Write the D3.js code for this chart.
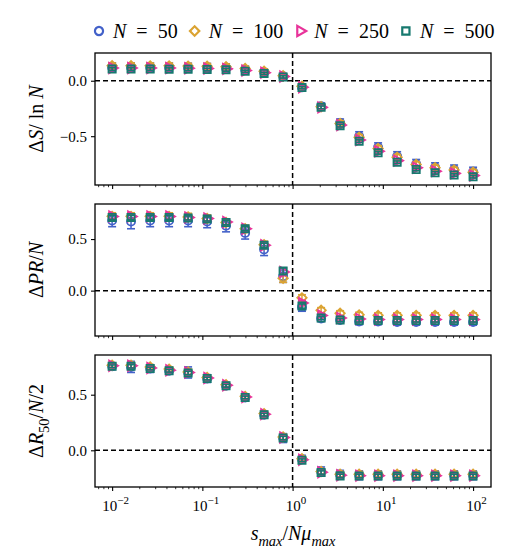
<!DOCTYPE html>
<html>
<head>
<meta charset="utf-8">
<script src="https://cdn.jsdelivr.net/npm/d3@7"></script>
<style>
  body { margin: 0; background: #fff; }
  svg text { font-family: "Liberation Serif", "DejaVu Serif", serif; fill: #000; }
</style>
</head>
<body>
<div id="chart"></div>
<script>
// x values (s_max / N mu_max), log spaced points
var sRatio = [0.01, 0.0162, 0.0264, 0.0428, 0.0695, 0.113, 0.183, 0.298, 0.483, 0.785,
              1.27, 2.07, 3.36, 5.46, 8.86, 14.4, 23.4, 37.9, 61.6, 100];

var sizesN = ["50", "100", "250", "500"];

// Delta S / ln N
var dS_50  = [0.12, 0.12, 0.12, 0.12, 0.118, 0.116, 0.112, 0.097, 0.076, 0.04, -0.06, -0.23, -0.38, -0.5, -0.6, -0.68, -0.75, -0.78, -0.8, -0.82];
var dS_100 = [0.135, 0.135, 0.134, 0.134, 0.132, 0.13, 0.126, 0.11, 0.085, 0.045, -0.05, -0.235, -0.385, -0.51, -0.61, -0.69, -0.755, -0.785, -0.805, -0.825];
var dS_250 = [0.115, 0.115, 0.115, 0.114, 0.112, 0.11, 0.107, 0.093, 0.073, 0.038, -0.058, -0.24, -0.4, -0.535, -0.635, -0.72, -0.785, -0.815, -0.835, -0.855];
var dS_500 = [0.105, 0.105, 0.105, 0.104, 0.103, 0.101, 0.098, 0.085, 0.066, 0.034, -0.062, -0.24, -0.405, -0.545, -0.65, -0.735, -0.8, -0.83, -0.85, -0.865];
var dS_err50  = [0.04, 0.04, 0.04, 0.04, 0.04, 0.04, 0.04, 0.035, 0.03, 0.025, 0.02, 0.03, 0.035, 0.04, 0.04, 0.04, 0.04, 0.04, 0.04, 0.04];
var dS_err100 = [0.025, 0.025, 0.025, 0.025, 0.025, 0.025, 0.025, 0.02, 0.02, 0.015, 0.015, 0.02, 0.025, 0.025, 0.025, 0.025, 0.025, 0.025, 0.025, 0.025];
var dS_err250 = [0.018, 0.018, 0.018, 0.018, 0.018, 0.018, 0.018, 0.015, 0.015, 0.012, 0.012, 0.015, 0.018, 0.018, 0.018, 0.018, 0.018, 0.018, 0.018, 0.018];
var dS_err500 = [0.012, 0.012, 0.012, 0.012, 0.012, 0.012, 0.012, 0.01, 0.01, 0.01, 0.01, 0.012, 0.012, 0.012, 0.012, 0.012, 0.012, 0.012, 0.012, 0.012];

// Delta PR / N
var dPR_50  = [0.68, 0.67, 0.68, 0.68, 0.68, 0.67, 0.63, 0.56, 0.4, 0.14, -0.16, -0.27, -0.285, -0.3, -0.3, -0.305, -0.305, -0.305, -0.305, -0.305];
var dPR_100 = [0.72, 0.72, 0.72, 0.72, 0.715, 0.7, 0.66, 0.6, 0.445, 0.12, -0.07, -0.19, -0.22, -0.235, -0.24, -0.24, -0.24, -0.24, -0.24, -0.24];
var dPR_250 = [0.72, 0.72, 0.72, 0.72, 0.71, 0.7, 0.665, 0.6, 0.44, 0.18, -0.12, -0.24, -0.265, -0.275, -0.28, -0.28, -0.28, -0.28, -0.28, -0.28];
var dPR_500 = [0.71, 0.71, 0.71, 0.71, 0.705, 0.695, 0.66, 0.6, 0.44, 0.19, -0.15, -0.265, -0.285, -0.29, -0.29, -0.29, -0.29, -0.29, -0.29, -0.29];
var dPR_err50  = [0.06, 0.07, 0.06, 0.06, 0.06, 0.06, 0.06, 0.06, 0.06, 0.06, 0.04, 0.03, 0.03, 0.03, 0.03, 0.03, 0.03, 0.03, 0.03, 0.03];
var dPR_err100 = [0.035, 0.035, 0.035, 0.035, 0.035, 0.035, 0.035, 0.035, 0.035, 0.04, 0.03, 0.025, 0.025, 0.025, 0.025, 0.025, 0.025, 0.025, 0.025, 0.025];
var dPR_err250 = [0.025, 0.025, 0.025, 0.025, 0.025, 0.025, 0.025, 0.025, 0.03, 0.035, 0.025, 0.02, 0.02, 0.02, 0.02, 0.02, 0.02, 0.02, 0.02, 0.02];
var dPR_err500 = [0.02, 0.02, 0.02, 0.02, 0.02, 0.02, 0.02, 0.02, 0.02, 0.03, 0.02, 0.015, 0.015, 0.015, 0.015, 0.015, 0.015, 0.015, 0.015, 0.015];

// Delta R50 / (N/2)
var dR_50  = [0.755, 0.75, 0.735, 0.715, 0.7, 0.645, 0.58, 0.475, 0.32, 0.11, -0.08, -0.19, -0.22, -0.225, -0.225, -0.225, -0.225, -0.225, -0.225, -0.225];
var dR_100 = [0.765, 0.765, 0.75, 0.73, 0.705, 0.655, 0.59, 0.485, 0.33, 0.12, -0.075, -0.19, -0.215, -0.215, -0.215, -0.215, -0.215, -0.215, -0.215, -0.215];
var dR_250 = [0.76, 0.76, 0.74, 0.72, 0.7, 0.65, 0.585, 0.48, 0.325, 0.115, -0.085, -0.197, -0.225, -0.228, -0.228, -0.228, -0.228, -0.228, -0.228, -0.228];
var dR_500 = [0.755, 0.755, 0.735, 0.715, 0.695, 0.645, 0.58, 0.475, 0.32, 0.11, -0.09, -0.2, -0.23, -0.232, -0.232, -0.232, -0.232, -0.232, -0.232, -0.232];
var dR_err50  = [0.03, 0.05, 0.035, 0.03, 0.05, 0.035, 0.03, 0.03, 0.03, 0.04, 0.035, 0.04, 0.04, 0.04, 0.04, 0.04, 0.04, 0.04, 0.04, 0.04];
var dR_err100 = [0.02, 0.025, 0.02, 0.02, 0.025, 0.02, 0.02, 0.02, 0.02, 0.025, 0.02, 0.025, 0.025, 0.025, 0.025, 0.025, 0.025, 0.025, 0.025, 0.025];
var dR_err250 = [0.015, 0.02, 0.015, 0.015, 0.02, 0.015, 0.015, 0.015, 0.015, 0.02, 0.015, 0.02, 0.02, 0.02, 0.02, 0.02, 0.02, 0.02, 0.02, 0.02];
var dR_err500 = [0.012, 0.015, 0.012, 0.012, 0.015, 0.012, 0.012, 0.012, 0.012, 0.015, 0.012, 0.015, 0.015, 0.015, 0.015, 0.015, 0.015, 0.015, 0.015, 0.015];

// axis limits and ticks
var xLim = [0.00646, 158];
var xMajor = [0.01, 0.1, 1, 10, 100];
var xExp = ["\u22122", "\u22121", "0", "1", "2"];
var yLimS = [-0.94, 0.25],  yTicksS = [-0.5, 0.0];
var yLimPR = [-0.44, 0.84], yTicksPR = [0.0, 0.5];
var yLimR = [-0.33, 0.857], yTicksR = [0.0, 0.5];

var colors = ["#4361c9", "#dba332", "#e8339a", "#17796f"];

var width = 517, height = 560;
var left = 95, right = 491;
var panelTop = [53, 204, 355], panelH = 132;

var panels = [
  { vals: [dS_50, dS_100, dS_250, dS_500], errs: [dS_err50, dS_err100, dS_err250, dS_err500],
    lim: yLimS, ticks: yTicksS,
    label: [["\u0394", "n"], ["S", "i"], ["/ ln ", "n"], ["N", "i"]] },
  { vals: [dPR_50, dPR_100, dPR_250, dPR_500], errs: [dPR_err50, dPR_err100, dPR_err250, dPR_err500],
    lim: yLimPR, ticks: yTicksPR,
    label: [["\u0394", "n"], ["PR", "i"], ["/", "n"], ["N", "i"]] },
  { vals: [dR_50, dR_100, dR_250, dR_500], errs: [dR_err50, dR_err100, dR_err250, dR_err500],
    lim: yLimR, ticks: yTicksR,
    label: [["\u0394", "n"], ["R", "i"], ["50", "sub"], ["/", "n"], ["N", "i"], ["/2", "n"]] }
];

var svg = d3.select("#chart").append("svg")
  .attr("width", width)
  .attr("height", height);

var x = d3.scaleLog().domain(xLim).range([left, right]);
var xMinor = x.ticks().filter(function(d) { return Math.abs(Math.log10(d) - Math.round(Math.log10(d))) > 1e-6; });

function symbolFor(i) {
  if (i === 0) return { d: d3.symbol(d3.symbolCircle, 52)(), rot: 0 };
  if (i === 1) return { d: d3.symbol(d3.symbolSquare, 44)(), rot: 45 };
  if (i === 2) return { d: d3.symbol(d3.symbolTriangle, 46)(), rot: 90 };
  return { d: d3.symbol(d3.symbolSquare, 52)(), rot: 0 };
}

// write text made of pieces: normal, italic, subscript
function richText(sel, parts, size) {
  var shift = 0;
  parts.forEach(function(p) {
    var t = sel.append("tspan").text(p[0]);
    if (p[1] === "i" || p[1] === "isub") t.attr("font-style", "italic");
    if (p[1] === "sub" || p[1] === "isub") {
      t.attr("font-size", size * 0.72).attr("dy", size * 0.28 - shift);
      shift = size * 0.28;
    } else if (shift) {
      t.attr("dy", -shift);
      shift = 0;
    }
  });
}

panels.forEach(function(p, k) {
  var top = panelTop[k], bottom = top + panelH;
  var y = d3.scaleLinear().domain(p.lim).range([bottom, top]);
  var g = svg.append("g");

  // dashed reference lines
  g.append("line")
    .attr("x1", left).attr("x2", right)
    .attr("y1", y(0)).attr("y2", y(0))
    .attr("stroke", "#000").attr("stroke-width", 1.5).attr("stroke-dasharray", "5,3");
  g.append("line")
    .attr("x1", x(1)).attr("x2", x(1))
    .attr("y1", top).attr("y2", bottom)
    .attr("stroke", "#000").attr("stroke-width", 1.5).attr("stroke-dasharray", "5,3");

  // series with error bars
  p.vals.forEach(function(vals, i) {
    var errs = p.errs[i];
    var sg = g.append("g").attr("stroke", colors[i]).attr("fill", "none");
    var data = vals.map(function(v, j) { return { x: sRatio[j], v: v, e: errs[j] }; });
    var eb = sg.selectAll(".eb").data(data).enter().append("g");
    eb.append("line")
      .attr("x1", function(d) { return x(d.x); }).attr("x2", function(d) { return x(d.x); })
      .attr("y1", function(d) { return y(d.v - d.e); }).attr("y2", function(d) { return y(d.v + d.e); })
      .attr("stroke-width", 1.5);
    [-1, 1].forEach(function(s) {
      eb.append("line")
        .attr("x1", function(d) { return x(d.x) - 4; }).attr("x2", function(d) { return x(d.x) + 4; })
        .attr("y1", function(d) { return y(d.v + s * d.e); }).attr("y2", function(d) { return y(d.v + s * d.e); })
        .attr("stroke-width", 1.6);
    });
    var sym = symbolFor(i);
    sg.selectAll(".pt").data(data).enter().append("path")
      .attr("d", sym.d)
      .attr("transform", function(d) { return "translate(" + x(d.x) + "," + y(d.v) + ") rotate(" + sym.rot + ")"; })
      .attr("stroke-width", 1.8);
  });

  // frame
  g.append("rect")
    .attr("x", left).attr("y", top)
    .attr("width", right - left).attr("height", panelH)
    .attr("fill", "none").attr("stroke", "#000").attr("stroke-width", 1.3);

  // y axis
  var ya = g.append("g")
    .attr("transform", "translate(" + left + ",0)")
    .call(d3.axisLeft(y).tickValues(p.ticks).tickSize(4).tickPadding(4)
      .tickFormat(function(d) { return (d < 0 ? "\u2212" : "") + Math.abs(d).toFixed(1); }));
  ya.select(".domain").remove();
  ya.selectAll("line").attr("stroke-width", 1.1);
  ya.selectAll("text").attr("font-family", "Liberation Serif").attr("font-size", 15);

  // x axis: major and minor ticks
  var xa = g.append("g")
    .attr("transform", "translate(0," + bottom + ")")
    .call(d3.axisBottom(x).tickValues(xMajor).tickSize(4).tickFormat(""));
  xa.select(".domain").remove();
  xa.selectAll("line").attr("stroke-width", 1.1);
  var xm = g.append("g")
    .attr("transform", "translate(0," + bottom + ")")
    .call(d3.axisBottom(x).tickValues(xMinor).tickSize(2.2).tickFormat(""));
  xm.select(".domain").remove();
  xm.selectAll("line").attr("stroke-width", 0.8);

  if (k === panels.length - 1) {
    xa.selectAll(".tick").each(function(d, j) {
      var t = d3.select(this).append("text")
        .attr("y", 24).attr("x", 3).attr("fill", "#000")
        .attr("font-family", "Liberation Serif").attr("font-size", 15)
        .attr("text-anchor", "middle");
      t.append("tspan").text("10");
      t.append("tspan").text(xExp[j]).attr("font-size", 11).attr("dy", -7);
    });
  }

  // y label
  var yl = svg.append("text")
    .attr("transform", "translate(43," + (top + panelH / 2) + ") rotate(-90)")
    .attr("text-anchor", "middle")
    .attr("font-size", 20);
  richText(yl, p.label, 20);
});

// x label
var xl = svg.append("text")
  .attr("x", (left + right) / 2).attr("y", 540)
  .attr("text-anchor", "middle")
  .attr("font-size", 20);
richText(xl, [["s", "i"], ["max", "isub"], ["/", "n"], ["N\u03bc", "i"], ["max", "isub"]], 20);

// legend
var cursor = 99;
sizesN.forEach(function(n, i) {
  var sym = symbolFor(i);
  svg.append("path")
    .attr("d", sym.d)
    .attr("transform", "translate(" + cursor + ",31) rotate(" + sym.rot + ")")
    .attr("fill", "none").attr("stroke", colors[i]).attr("stroke-width", 2.2);
  var t = svg.append("text")
    .attr("x", cursor + 14).attr("y", 38)
    .attr("font-size", 20);
  t.append("tspan").attr("font-style", "italic").text("N");
  t.append("tspan").attr("dx", 10).text("=");
  t.append("tspan").attr("dx", 10).text(n);
  cursor += 14 + t.node().getBBox().width + 16;
});
</script>
</body>
</html>
